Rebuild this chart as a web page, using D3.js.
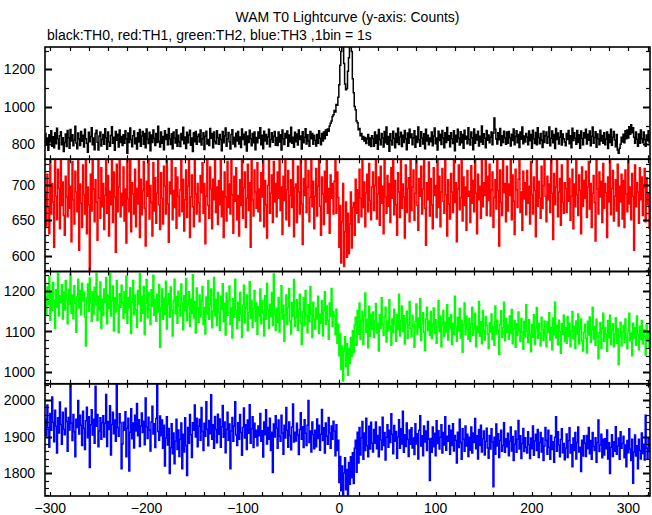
<!DOCTYPE html>
<html><head><meta charset="utf-8">
<script src="https://cdn.jsdelivr.net/npm/d3@7"></script>
<style>
html,body{margin:0;padding:0;background:#fff;}
svg text{font-family:"Liberation Sans",Arial,Helvetica,sans-serif;font-size:14px;fill:#000;}
</style></head>
<body>
<svg id="chart" width="652" height="515"></svg>
<script>
const title = "WAM T0 Lightcurve (y-axis: Counts)";
const subtitle = "black:TH0, red:TH1, green:TH2, blue:TH3 ,1bin = 1s";
const binStart = -305;   // time of first 1 s bin
const xTicksMajor = [-300,-200,-100,0,100,200,300];

const th0 = [
858,796,834,768,851,812,872,789,840,781,862,803,886,829,775,846,867,797,835,762,
810,855,788,874,833,779,879,818,851,792,822,896,807,776,860,830,794,869,816,848,
786,881,829,806,757,864,813,842,888,797,834,771,857,875,811,770,844,866,791,826,
852,800,883,835,774,866,812,790,847,894,805,838,768,869,822,853,785,876,810,841,
793,851,806,872,829,752,860,809,887,826,787,845,871,803,834,775,862,812,879,790,
844,868,800,857,781,882,828,804,864,766,850,809,876,831,794,858,810,897,815,786,
866,806,841,771,873,825,852,797,884,830,799,856,776,865,833,807,878,789,848,812,
788,858,823,891,803,839,778,864,808,850,875,795,833,762,862,814,869,800,842,853,
812,877,796,830,861,772,843,870,801,826,794,884,832,857,782,866,815,803,873,835,
800,852,825,766,869,808,846,887,790,830,863,813,775,852,878,801,838,787,859,818,
869,801,839,783,882,826,853,797,866,764,844,810,875,830,792,858,808,865,771,836,
808,865,832,888,797,848,776,870,818,852,801,839,880,787,826,861,811,843,869,795,
836,794,866,812,851,770,877,829,799,858,834,871,789,849,812,891,805,838,784,864,
814,855,796,877,826,844,775,867,808,838,883,801,851,818,789,869,830,857,800,848,
822,791,852,805,873,832,797,858,818,866,829,876,848,882,870,898,912,925,948,958,
980,972,1012,1008,1052,1118,1222,1296,1345,1318,1232,1122,1092,1098,1190,1262,1338,1340,1296,1150,
1075,1002,985,925,915,878,884,846,858,827,842,818,836,804,829,852,796,833,788,846,
831,790,866,806,849,774,879,825,797,857,834,785,868,808,892,800,842,763,856,820,
796,870,832,781,857,809,886,799,839,864,788,848,810,874,829,771,860,805,881,835,
855,797,835,873,784,843,810,893,824,790,867,833,801,856,776,881,818,848,798,834,
813,866,792,844,887,803,833,770,870,820,853,799,874,834,782,862,810,890,822,846,
787,861,830,804,872,765,848,812,880,834,796,867,808,852,779,875,827,843,803,889,
826,796,865,835,771,882,806,852,823,870,791,843,812,898,800,856,832,782,874,822,
850,808,837,866,797,859,940,880,828,802,861,824,885,793,845,810,870,833,800,865,
806,868,835,791,853,820,882,797,841,873,808,852,783,865,827,892,803,844,812,857,
838,797,871,819,852,779,875,830,804,863,797,889,836,803,858,822,783,870,810,845,
866,805,840,893,792,832,871,808,852,777,884,826,860,801,838,872,796,855,829,812,
792,858,825,874,803,846,781,886,820,862,832,800,874,810,851,779,871,831,797,862,
833,880,802,853,822,871,792,843,892,806,836,867,784,855,829,798,875,818,847,805,
862,797,828,866,778,852,810,881,795,838,869,823,787,852,770,752,779,800,838,812,
853,808,872,829,877,834,894,853,905,862,889,838,805,866,827,790,855,806,876,830,
808,866,825,790,850,819,872,811];

const th1 = [
690,642,715,668,631,748,659,702,676,612,735,684,651,722,695,638,760,671,704,657,
629,712,683,655,741,667,698,620,733,679,645,719,690,662,751,608,701,674,640,728,
686,659,743,631,697,672,580,715,663,739,694,648,707,676,622,758,681,653,724,669,
702,637,685,746,660,713,628,691,672,739,647,718,683,605,729,662,697,741,655,688,
671,725,649,694,618,738,680,662,751,634,703,687,659,722,641,695,673,747,626,708,
658,692,733,667,614,705,684,740,652,699,675,628,731,663,710,646,688,754,672,637,
717,681,645,726,698,659,742,673,619,704,687,735,651,692,668,724,639,711,684,656,
693,744,662,708,635,679,721,654,698,747,626,683,714,669,641,736,687,659,702,675,
648,713,689,731,660,702,617,684,740,671,653,725,694,638,708,679,752,661,697,644,
706,672,739,655,691,626,718,683,649,733,668,701,659,745,686,632,712,677,724,651,
685,628,707,671,744,653,696,718,640,681,729,664,703,612,738,679,656,721,690,667,
731,662,694,649,717,683,756,641,706,672,625,699,741,660,688,714,647,733,676,702,
655,718,681,736,664,697,630,712,678,749,651,693,720,642,685,707,668,739,627,696,
701,647,726,690,659,742,673,616,709,685,734,661,697,720,648,682,751,669,705,638,
684,723,656,698,737,670,629,711,687,644,719,676,748,660,695,632,714,681,702,659,
705,738,660,718,682,612,671,590,648,702,585,634,676,598,660,603,645,690,611,668,
675,629,708,660,693,647,722,681,655,736,668,704,641,689,715,662,730,678,651,697,
718,664,699,735,652,687,711,643,726,674,698,631,745,683,660,713,670,702,647,724,
681,739,658,706,672,629,717,690,654,742,667,701,683,625,728,661,695,710,648,736,
664,697,721,650,688,743,671,636,709,684,726,659,694,748,667,615,703,679,732,656,
709,672,638,724,685,699,654,735,668,712,641,690,723,677,660,741,686,628,707,673,
652,716,690,661,739,675,703,620,694,728,665,682,745,649,711,671,697,636,720,684,
691,647,727,674,706,662,741,688,631,715,679,698,653,734,669,703,685,748,657,712,
678,729,656,693,718,640,682,707,666,739,692,614,721,675,657,744,689,702,648,726,
663,701,685,742,651,714,677,630,722,693,668,708,747,661,690,636,719,680,703,658,
720,674,698,645,733,686,659,711,692,627,738,670,705,681,653,726,667,699,742,684,
648,712,679,701,661,745,688,623,716,672,697,734,655,690,709,643,728,675,660,703,
695,661,737,677,709,650,684,722,638,701,669,750,686,657,714,692,631,725,670,706,
681,719,654,697,733,666,702,640,688,713,675,621,739,694,659,718,683,705,647,730,
667,702,689,626,711,676,744,658,695,720,649,684,707,663,729,642,698,676,715,652,
706,640,721,687,662,735,673,697,651,716,684,608,728,669,703,690,646,724,679,711,
657,696,723,648,710,672,688,639];

const th2 = [
1185,1142,1210,1166,1235,1128,1194,1152,1221,1176,1108,1203,1160,1247,1139,1188,1172,1215,1131,1197,
1153,1226,1178,1119,1204,1167,1241,1145,1190,1132,1213,1170,1098,1186,1229,1158,1201,1141,1219,1175,
1196,1136,1064,1183,1217,1150,1232,1171,1125,1198,1143,1209,1166,1244,1128,1187,1154,1222,1108,1180,
1140,1205,1172,1233,1119,1190,1157,1249,1138,1176,1212,1101,1183,1148,1226,1165,1097,1193,1160,1214,
1171,1132,1198,1147,1237,1120,1184,1159,1208,1095,1173,1226,1141,1190,1153,1110,1201,1168,1243,1126,
1186,1145,1211,1093,1170,1228,1134,1196,1155,1117,1203,1162,1239,1140,1179,1125,1192,1148,1216,1061,
1159,1205,1130,1182,1142,1224,1106,1168,1193,1135,1210,1152,1089,1175,1229,1144,1186,1120,1199,1163,
1138,1217,1170,1104,1188,1151,1231,1127,1166,1198,1112,1180,1145,1240,1133,1174,1096,1207,1157,1123,
1190,1136,1175,1211,1118,1159,1094,1185,1143,1226,1130,1168,1205,1109,1150,1233,1138,1179,1115,1196,
1146,1103,1187,1155,1218,1124,1169,1091,1195,1140,1176,1212,1117,1158,1084,1181,1135,1229,1152,1108,
1172,1128,1196,1143,1085,1165,1214,1121,1159,1190,1102,1147,1223,1133,1177,1110,1156,1201,1125,1170,
1093,1161,1138,1205,1119,1176,1147,1089,1188,1130,1219,1154,1108,1167,1137,1196,1115,1242,1142,1103,
1158,1122,1184,1099,1147,1213,1131,1165,1076,1140,1190,1117,1159,1206,1125,1094,1171,1137,1228,1112,
1135,1178,1103,1155,1192,1120,1068,1148,1183,1114,1201,1139,1097,1166,1124,1211,1143,1085,1172,1130,
1106,1158,1131,1187,1095,1143,1120,1176,1089,1152,1198,1117,1163,1128,1081,1170,1137,1206,1112,1149,
1138,1092,1155,1071,1118,1040,1095,1006,1064,978,1052,1087,1013,1070,992,1058,1021,1085,1039,1102,
1048,1116,1135,1066,1152,1094,1170,1080,1128,1150,1068,1138,1195,1098,1130,1060,1162,1088,1142,1105,
1148,1085,1127,1169,1096,1120,1052,1142,1108,1183,1117,1090,1136,1160,1074,1125,1101,1178,1113,1066,
1131,1097,1155,1118,1076,1142,1105,1192,1089,1128,1163,1100,1139,1069,1121,1150,1083,1116,1174,1108,
1087,1140,1112,1061,1125,1168,1094,1133,1110,1181,1078,1119,1146,1098,1053,1131,1160,1102,1126,1090,
1149,1083,1117,1158,1095,1129,1071,1111,1176,1100,1138,1062,1115,1152,1088,1123,1099,1166,1079,1134,
1106,1142,1068,1120,1093,1187,1111,1076,1135,1101,1157,1084,1128,1049,1116,1170,1092,1138,1104,1081,
1132,1075,1119,1160,1090,1106,1145,1062,1113,1097,1174,1088,1124,1070,1152,1102,1079,1137,1115,1094,
1058,1121,1099,1143,1080,1112,1066,1163,1094,1128,1103,1044,1118,1151,1086,1109,1172,1077,1132,1097,
1116,1081,1138,1095,1154,1070,1107,1127,1061,1119,1090,1148,1103,1075,1132,1099,1056,1125,1087,1166,
1101,1073,1129,1092,1050,1117,1086,1141,1068,1108,1159,1083,1120,1096,1065,1135,1104,1078,1126,1090,
1063,1124,1097,1146,1079,1110,1055,1133,1091,1172,1084,1115,1067,1128,1100,1046,1119,1093,1140,1075,
1109,1071,1137,1088,1120,1062,1101,1149,1082,1113,1058,1126,1094,1143,1069,1106,1131,1077,1052,1098,
1118,1083,1047,1125,1091,1136,1073,1104,1160,1080,1112,1066,1130,1089,1033,1097,1122,1058,1108,1145,
1076,1110,1094,1051,1127,1085,1140,1068,1103,1119,1062,1093,1134,1071,1107,1018,1089,1123,1064,1099,
1115,1073,1131,1086,1058,1102,1145,1077,1096,1040,1120,1084,1109,1066,1138,1092,1055,1113,1081,1127,
1069,1104,1088,1042,1116,1075,1097,1061];

const th3 = [
1948,1902,1986,1925,1871,1963,1917,2008,1939,1886,1972,1928,1855,1951,1910,1994,1933,1879,1966,1920,
1905,1977,1941,1860,1952,1918,2051,1936,1889,1960,1913,1845,1947,1925,1998,1907,1958,1931,1876,1969,
1922,1865,1943,1980,1897,1954,1816,1932,1973,1904,1947,1882,2037,1928,1960,1872,1915,1951,1893,1938,
1957,1899,1936,2015,1873,1941,1919,1984,1850,1933,1966,1908,1945,1887,2052,1925,1901,1962,1938,1812,
1880,1939,1917,1968,1845,1923,1950,1806,1912,1976,1894,1937,1869,1958,1915,1990,1902,1946,1873,1929,
1964,1911,1942,1878,2005,1926,1895,1953,1918,1861,1940,1983,1907,1935,1870,1949,2048,1914,1890,1956,
1902,1945,1868,1931,1820,1896,1954,1877,1922,1799,1870,1935,1853,1910,1826,1888,1947,1865,1918,1846,
1893,1937,1812,1906,1858,1951,1876,1794,1925,1882,1960,1905,1843,1938,1917,1986,1899,1950,1872,1928,
1947,1890,1979,1914,1862,1936,1901,1995,1920,1875,1944,1908,2014,1893,1932,1868,1955,1919,1883,1961,
1906,1948,1871,1927,1985,1898,1940,1856,1919,1966,1890,1934,1812,1915,1952,1887,1929,1995,1904,1876,
1938,1893,1960,1911,1849,1925,1978,1896,1932,1865,1945,1909,1987,1882,1921,1954,1870,1936,1898,1917,
1875,1929,1902,1963,1887,1916,1844,1940,1905,1973,1880,1925,1893,1950,1862,1912,1802,1934,1899,1957,
1923,1868,1945,1901,1887,1958,1910,1852,1931,1896,1979,1917,1871,1940,1903,1864,1926,1989,1885,1912,
1888,1936,1904,1851,1919,1965,1893,1927,1870,1946,1909,1876,1931,1998,1884,1915,1858,1940,1906,1867,
1917,1872,1948,1895,1931,1863,1906,1974,1889,1924,1855,1937,1901,1879,1952,1910,1868,1929,1893,1942,
1915,1848,1932,1862,1890,1775,1846,1752,1820,1738,1801,1842,1755,1810,1741,1829,1770,1845,1788,1856,
1772,1868,1890,1803,1912,1828,1925,1850,1897,1941,1838,1910,1862,1950,1876,1845,1928,1866,1939,1882,
1858,1919,1882,1940,1867,1903,1845,1926,1891,1864,1953,1876,1911,1836,1898,1932,1871,1917,1884,1962,
1906,1853,1930,1887,1914,1841,1899,1946,1868,1921,1880,1969,1857,1905,1873,1937,1892,1846,1918,1879,
1924,1869,1896,1851,1935,1880,1908,1839,1917,1957,1874,1902,1848,1929,1885,1915,1862,1941,1893,1780,
1895,1857,1926,1872,1909,1848,1943,1881,1916,1866,1898,1932,1855,1911,1877,1954,1863,1901,1887,1930,
1852,1917,1876,1935,1861,1903,1889,1828,1912,1870,1947,1884,1838,1921,1893,1860,1929,1874,1906,1846,
1898,1863,1926,1855,1910,1884,1949,1867,1902,1839,1919,1876,1931,1858,1894,1915,1850,1887,1923,1869,
1841,1903,1866,1921,1885,1763,1898,1852,1934,1874,1908,1843,1889,1917,1860,1876,1938,1857,1894,1872,
1909,1848,1887,1926,1861,1900,1835,1879,1915,1857,1893,1944,1866,1902,1840,1881,1922,1859,1897,1871,
1855,1913,1878,1840,1896,1867,1929,1849,1888,1906,1862,1919,1843,1884,1911,1858,1896,1835,1874,1925,
1890,1852,1917,1871,1838,1903,1865,1886,1830,1898,1954,1860,1913,1877,1845,1892,1921,1856,1881,1837,
1868,1907,1843,1889,1924,1855,1878,1818,1896,1862,1911,1839,1884,1926,1858,1871,1805,1890,1847,1902,
1882,1846,1903,1867,1925,1853,1889,1838,1911,1873,1862,1897,1830,1884,1945,1859,1877,1906,1842,1893,
1850,1894,1867,1918,1839,1883,1799,1871,1905,1846,1886,1860,1927,1852,1874,1896,1838,1913,1868,1881,
1901,1842,1877,1818,1889,1856,1921,1866,1835,1893,1773,1858,1904,1847,1875,1812,1893,1862,1839,1910,
1854,1879,1836,1958,1868,1841,1894,1863];

// panel configuration: series, colour, y-domain, labelled ticks, minor step
const panels = [
  {data: th0, color: "#000000", domain: [720, 1320], major: [800,1000,1200], minor: 100},
  {data: th1, color: "#ff0000", domain: [578, 736],  major: [600,650,700],   minor: 10},
  {data: th2, color: "#00ff00", domain: [971, 1248], major: [1000,1100,1200], minor: 20},
  {data: th3, color: "#0000ff", domain: [1738, 2044], major: [1800,1900,2000], minor: 20}
];

(function draw() {
  const svg = d3.select("#chart");
  const pL = 45, pR = 650, pT = 47, pB = 496;
  const ph = (pB - pT) / panels.length;

  const x = d3.scaleLinear().domain([-305.5, 322.5]).range([pL, pR]);

  svg.append("text").attr("x", (pL + pR) / 2).attr("y", 22)
    .attr("text-anchor", "middle").text(title);
  svg.append("text").attr("x", 47).attr("y", 40).text(subtitle);

  const xMinor = d3.range(-300, 321, 20);

  panels.forEach((p, i) => {
    const y0 = pT + i * ph, y1 = y0 + ph;
    const y = d3.scaleLinear().domain(p.domain).range([y1, y0]);
    const g = svg.append("g");
    const cid = "clip" + i;
    svg.append("clipPath").attr("id", cid).append("rect")
      .attr("x", pL).attr("y", y0).attr("width", pR - pL).attr("height", ph);

    const line = d3.line()
      .x((d, k) => x(binStart + k))
      .y(d => y(d))
      .curve(d3.curveStep);
    g.append("path").datum(p.data)
      .attr("clip-path", `url(#${cid})`)
      .attr("fill", "none").attr("stroke", p.color).attr("stroke-width", 1.5)
      .attr("d", line);

    const [lo, hi] = p.domain;
    const ticks = d3.range(Math.ceil(lo / p.minor) * p.minor, hi + 0.001, p.minor);
    const tk = g.append("g").attr("stroke", "#000").attr("stroke-width", 1.2);
    ticks.forEach(v => {
      const isMaj = p.major.includes(v);
      const len = isMaj ? 7 : 4;
      const yy = Math.round(y(v)) + 0.5;
      tk.append("line").attr("x1", pL).attr("x2", pL + len).attr("y1", yy).attr("y2", yy)
        .attr("stroke-width", isMaj ? 2 : 1.2);
      tk.append("line").attr("x1", pR - len).attr("x2", pR).attr("y1", yy).attr("y2", yy)
        .attr("stroke-width", isMaj ? 2 : 1.2);
    });
    p.major.forEach(v => {
      g.append("text").attr("x", 35).attr("y", y(v)).attr("dy", "0.36em")
        .attr("text-anchor", "end").text(v);
    });
    xMinor.forEach(v => {
      const xx = Math.round(x(v)) + 0.5;
      tk.append("line").attr("x1", xx).attr("x2", xx).attr("y1", y0).attr("y2", y0 + 4);
      tk.append("line").attr("x1", xx).attr("x2", xx).attr("y1", y1 - 4).attr("y2", y1);
    });
    g.append("rect").attr("x", pL).attr("y", y0).attr("width", pR - pL).attr("height", ph)
      .attr("fill", "none").attr("stroke", "#000").attr("stroke-width", 1.6);
  });

  xTicksMajor.forEach(v => {
    svg.append("text").attr("x", x(v)).attr("y", 513).attr("text-anchor", "middle")
      .text(v < 0 ? "\u2212" + Math.abs(v) : v);
  });
})();
</script>
</body></html>
